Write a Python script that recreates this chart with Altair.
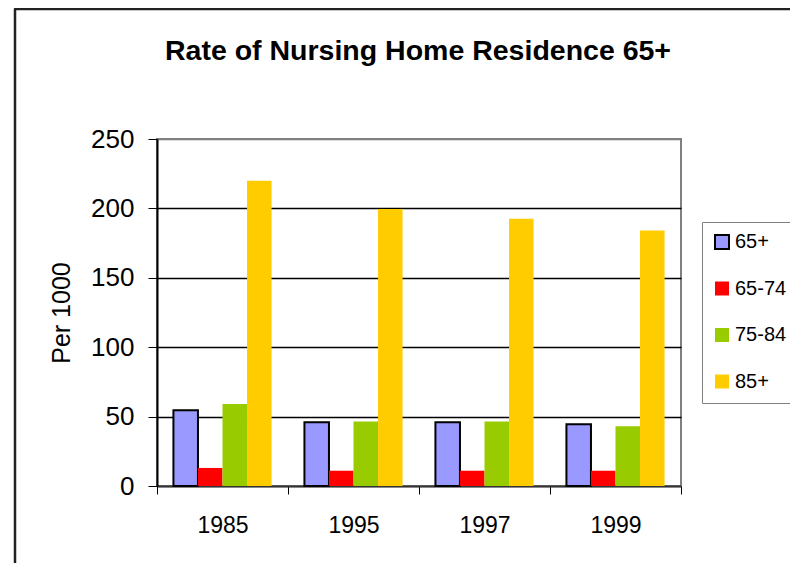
import altair as alt
import pandas as pd

years = ["1985", "1995", "1997", "1999"]
groups = ["65+", "65-74", "75-84", "85+"]
v_65plus = [54.5, 46, 46, 44.5]
v_65_74 = [13, 11, 11, 11]
v_75_84 = [59, 46.5, 46.5, 43]
v_85plus = [220, 199.5, 192.5, 184]
colors = ["#9999FF", "#FF0000", "#99CC00", "#FFCC00"]
outlines = ["black", "transparent", "transparent", "transparent"]
y_ticks = [0, 50, 100, 150, 200, 250]
title_text = ["Rate of Nursing Home Residence 65+"]

rows = []
for g, vals in zip(groups, [v_65plus, v_65_74, v_75_84, v_85plus]):
    for yr, v in zip(years, vals):
        rows.append({"year": yr, "group": g, "rate": v})
df = pd.DataFrame(rows)

W, H = 524, 347
FONT = "Liberation Sans"

legend = alt.Legend(
    title=None, orient="none", legendX=545, legendY=83, padding=10,
    strokeColor="#808080", fillColor="white", symbolType="square",
    symbolSize=196, symbolStrokeWidth=2, labelFont=FONT, labelFontSize=20,
    labelColor="black", rowPadding=24.5, labelOffset=3, labelLimit=200,
)

bars = alt.Chart(df).mark_bar(strokeWidth=2).encode(
    x=alt.X("year:N", sort=years, title=None,
            scale=alt.Scale(paddingInner=0, paddingOuter=0),
            axis=alt.Axis(tickBand="extent", tickSize=8, tickColor="black",
                          domainColor="#333333", domainWidth=2,
                          labelFont=FONT, labelFontSize=23, labelColor="black",
                          labelAngle=0, labelPadding=20, grid=False)),
    xOffset=alt.XOffset("group:N", sort=groups,
                        scale=alt.Scale(paddingInner=0, paddingOuter=0.67)),
    y=alt.Y("rate:Q", title="Per 1000",
            scale=alt.Scale(domain=[0, 250], nice=False),
            axis=alt.Axis(values=y_ticks, tickSize=9, tickColor="black",
                          domainColor="black", domainWidth=2,
                          labelFont=FONT, labelFontSize=26, labelColor="black",
                          labelPadding=14, grid=True,
                          gridColor={"condition": {"test": "datum.value == 250 || datum.value == 0", "value": "#808080"}, "value": "black"},
                          gridWidth=1.3,
                          titleFont=FONT, titleFontSize=25, titleFontWeight="normal",
                          titleColor="black", titlePadding=16)),
    fill=alt.Fill("group:N", sort=groups, scale=alt.Scale(domain=groups, range=colors), legend=legend),
    stroke=alt.Stroke("group:N", sort=groups, scale=alt.Scale(domain=groups, range=outlines), legend=legend),
)

frame_df = pd.DataFrame({"k": [0]})
frame_left = alt.Chart(frame_df).mark_rule(color="#222222", strokeWidth=2.5).encode(
    x=alt.value(-142), y=alt.value(-130), y2=alt.value(460))
frame_top = alt.Chart(frame_df).mark_rule(color="#222222", strokeWidth=2.5).encode(
    x=alt.value(-143), x2=alt.value(700), y=alt.value(-130))

title = alt.Chart(pd.DataFrame({"t": title_text})).mark_text(
    font=FONT, fontSize=28.5, fontWeight="bold", color="black",
    align="center", baseline="alphabetic"
).encode(text="t:N", x=alt.value(W / 2 - 1), y=alt.value(-79))

chart = alt.layer(frame_left, frame_top, title, bars).properties(
    width=W, height=H,
    autosize=alt.AutoSizeParams(type="none"),
    padding={"left": 149, "top": 131, "right": 109, "bottom": 77},
).configure_view(stroke="#808080", strokeWidth=2)

chart.save("out.html", embed_options={"renderer": "svg", "actions": False})
